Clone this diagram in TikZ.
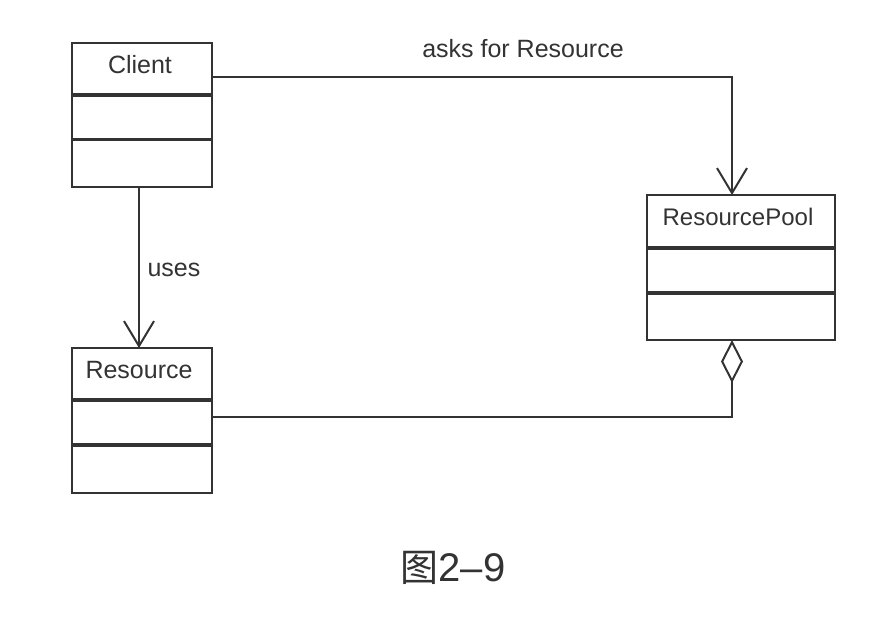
\documentclass[tikz,border=0pt]{standalone}
\usepackage{fontspec}
\setmainfont{Liberation Sans}
\newfontfamily\cjk{Noto Sans CJK SC}
\usetikzlibrary{arrows.meta}
\definecolor{ink}{HTML}{333333}
\tikzset{
  umlbox/.style={draw=ink, line width=2pt, rectangle, inner sep=0pt},
  divider/.style={draw=ink, line width=3.5pt},
  conn/.style={draw=ink, line width=2pt},
  lbl/.style={font=\fontsize{25}{29}\selectfont, text=ink, anchor=base, inner sep=0pt},
  vtip/.style={-{Straight Barb[length=25pt, width=30pt, line width=2pt]}},
  diatip/.style={{Diamond[open, length=43pt, width=22pt, line width=2pt]}-}
}
\begin{document}
\begin{tikzpicture}[x=1pt, y=-1pt]
\useasboundingbox[fill=white] (0,0) rectangle (896,618);
% boxes
\node[umlbox, minimum width=140pt, minimum height=144pt] (client) at (141.7,115) {};
\node[umlbox, minimum width=140pt, minimum height=145pt] (resource) at (141.7,420.5) {};
\node[umlbox, minimum width=188pt, minimum height=145pt] (pool) at (741,267.5) {};
% titles
\node[lbl] (clientT) at (140,73.5) {Client};
\node[lbl] (resourceT) at (139,378) {Resource};
\node[lbl, font=\fontsize{24}{28}\selectfont] (poolT) at (738,225) {ResourcePool};
% dividers
\draw[divider] (client.west |- 0,95) -- (client.east |- 0,95);
\draw[divider] (client.west |- 0,139.5) -- (client.east |- 0,139.5);
\draw[divider] (resource.west |- 0,400) -- (resource.east |- 0,400);
\draw[divider] (resource.west |- 0,445) -- (resource.east |- 0,445);
\draw[divider] (pool.west |- 0,248) -- (pool.east |- 0,248);
\draw[divider] (pool.west |- 0,293) -- (pool.east |- 0,293);
% attachment points
\coordinate (clientOut) at (client.east |- 0,77);
\coordinate (poolTop) at (732,195);
\coordinate (poolBot) at (732,340);
\coordinate (resOut) at (resource.east |- 0,417);
\coordinate (clientBot) at (139,187);
\coordinate (resTop) at (139,348);
% connectors
\draw[conn, vtip] (clientOut) -| (poolTop);
\draw[conn, vtip] (clientBot) -- (resTop);
\draw[conn, diatip] (poolBot) |- (resOut);
% labels
\node[lbl] (asks) at (523,58) {asks for Resource};
\node[lbl] (uses) at (174,276) {uses};
\node[font=\fontsize{40}{46}\selectfont, text=ink, anchor=base, inner sep=0pt] (cap) at (453,581) {{\cjk\fontsize{38}{44}\selectfont 图}2–9};
\end{tikzpicture}
\end{document}
